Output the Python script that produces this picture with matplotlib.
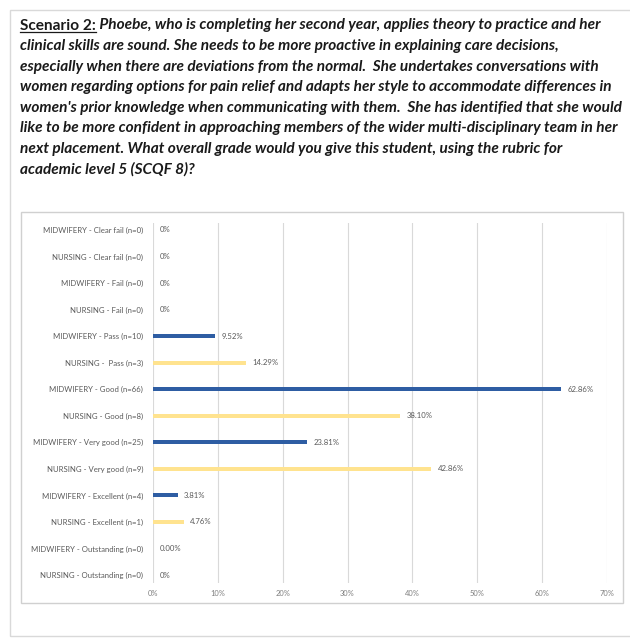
import matplotlib
matplotlib.use("Agg")
import matplotlib.pyplot as plt
from matplotlib.patches import Rectangle
from matplotlib.lines import Line2D

categories = [
    "MIDWIFERY - Clear fail (n=0)",
    "NURSING - Clear fail (n=0)",
    "MIDWIFERY - Fail (n=0)",
    "NURSING - Fail (n=0)",
    "MIDWIFERY - Pass (n=10)",
    "NURSING -  Pass (n=3)",
    "MIDWIFERY - Good (n=66)",
    "NURSING - Good (n=8)",
    "MIDWIFERY - Very good (n=25)",
    "NURSING - Very good (n=9)",
    "MIDWIFERY - Excellent (n=4)",
    "NURSING - Excellent (n=1)",
    "MIDWIFERY - Outstanding (n=0)",
    "NURSING - Outstanding (n=0)",
]
values = [0, 0, 0, 0, 9.52, 14.29, 62.86, 38.10, 23.81, 42.86, 3.81, 4.76, 0.00, 0]
value_labels = ["0%", "0%", "0%", "0%", "9.52%", "14.29%", "62.86%", "38.10%",
                "23.81%", "42.86%", "3.81%", "4.76%", "0.00%", "0%"]
xticks = [0, 10, 20, 30, 40, 50, 60, 70]
xtick_labels = ["0%", "10%", "20%", "30%", "40%", "50%", "60%", "70%"]

title_first = "Scenario 2:"
title_lines = [
    " Phoebe, who is completing her second year, applies theory to practice and her",
    "clinical skills are sound. She needs to be more proactive in explaining care decisions,",
    "especially when there are deviations from the normal.  She undertakes conversations with",
    "women regarding options for pain relief and adapts her style to accommodate differences in",
    "women's prior knowledge when communicating with them.  She has identified that she would",
    "like to be more confident in approaching members of the wider multi-disciplinary team in her",
    "next placement. What overall grade would you give this student, using the rubric for",
    "academic level 5 (SCQF 8)?",
]

W, H = 630, 639
fig = plt.figure(figsize=(W / 100, H / 100), dpi=100)
fig.patch.set_facecolor("white")

def fx(px):
    return px / W

def fy(py):
    return 1 - py / H

# outer page box
fig.patches.append(Rectangle((fx(10), fy(636)), fx(640) - fx(10), fy(10) - fy(636),
                             transform=fig.transFigure, fill=False,
                             edgecolor="#d9d9d9", lw=1.0))
# chart frame
fig.patches.append(Rectangle((fx(21), fy(603)), fx(623) - fx(21), fy(212) - fy(603),
                             transform=fig.transFigure, fill=False,
                             edgecolor="#d0d0d0", lw=1.0))

font = "Lato"
fs = 11.1
line_y = [29.5 + 20.55 * i for i in range(8)]
renderer = fig.canvas.get_renderer()
t0 = fig.text(fx(20), fy(line_y[0]), title_first, fontsize=fs, fontweight="bold",
              family=font, va="baseline", ha="left", color="#1a1a1a")
bb = t0.get_window_extent(renderer=renderer)
x_end = bb.x1 / fig.dpi / fig.get_figwidth()
fig.add_artist(Line2D([fx(20), x_end], [fy(line_y[0] + 2.8)] * 2,
                      transform=fig.transFigure, color="#1a1a1a", lw=0.9))
fig.text(x_end, fy(line_y[0]), title_lines[0], fontsize=fs, fontweight="bold",
         fontstyle="italic", family=font, va="baseline", ha="left", color="#1a1a1a")
for ln, yy in zip(title_lines[1:], line_y[1:]):
    fig.text(fx(20), fy(yy), ln, fontsize=fs, fontweight="bold", fontstyle="italic",
             family=font, va="baseline", ha="left", color="#1a1a1a")

# chart axes
row0, rowN = 230.0, 575.0
step = (rowN - row0) / 13
top_px, bot_px = 223.0, 583.0
left_px, right_px = 153, 607
ax = fig.add_axes([fx(left_px), fy(bot_px), fx(right_px) - fx(left_px), fy(top_px) - fy(bot_px)])
ax.set_facecolor("white")
colors = ["#2e5da3" if c.startswith("MIDWIFERY") else "#ffe38f" for c in categories]
y = list(range(len(categories)))
ax.barh(y, values, height=0.15, color=colors, zorder=3)
ax.set_ylim((bot_px - row0) / step, (top_px - row0) / step)
ax.set_xlim(0, 70)
ax.set_xticks(xticks)
ax.set_xticklabels(xtick_labels)
ax.set_yticks(y)
ax.set_yticklabels(categories)
ax.tick_params(axis="x", length=0, labelsize=5.4, labelcolor="#7f7f7f", pad=5)
ax.tick_params(axis="y", length=0, labelsize=5.6, labelcolor="#595959", pad=7)
for lab in ax.get_xticklabels() + ax.get_yticklabels():
    lab.set_family(font)
ax.grid(axis="x", color="#d9d9d9", lw=0.8, zorder=0)
for s in ax.spines.values():
    s.set_visible(False)
for yi, v, lab in zip(y, values, value_labels):
    ax.text(v + 1.0, yi, lab, va="center", ha="left", fontsize=5.6,
            color="#595959", family=font)

fig.savefig("out.png", dpi=100, facecolor="white")
